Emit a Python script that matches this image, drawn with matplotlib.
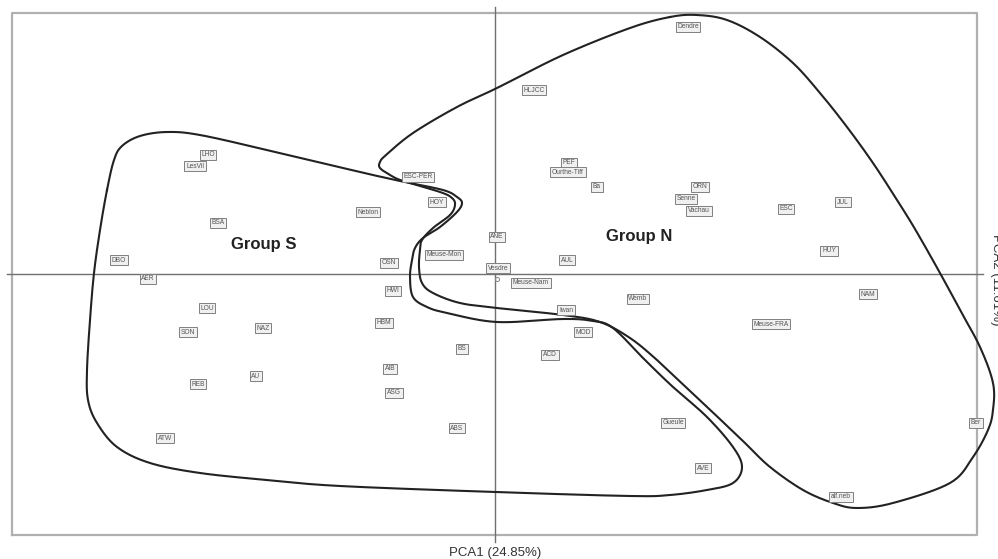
import numpy as np
import matplotlib
matplotlib.use("Agg")
import matplotlib.pyplot as plt

# site scores on the first two axes
sites = ["LHO", "LesVil", "HLJCC", "PEF", "Ourthe-Tiff", "Ba", "ESC-PER", "HOY",
         "Dendre", "ORN", "Senne", "Vachau", "ESC", "JUL", "HUY", "NAM", "Meuse-FRA",
         "BSA", "DBO", "AER", "LOU", "SON", "NAZ", "AU", "REB", "ATW",
         "Neblon", "ANE", "Meuse-Mon", "OSN", "Vesdre", "AUL", "Meuse-Nam", "HWI",
         "Wemb", "Iwan", "HBM", "MOD", "BS", "ACD", "AIB", "ASG", "ABS",
         "Gueule", "AVE", "alf.neb", "Ber"]
pc1 = [-2.87, -3.00, 0.39, 0.74, 0.73, 1.02, -0.77, -0.58,
       1.93, 2.05, 1.91, 2.04, 2.91, 3.48, 3.34, 3.73, 2.76,
       -2.77, -3.76, -3.47, -2.88, -3.07, -2.32, -2.39, -2.97, -3.30,
       -1.27, 0.02, -0.51, -1.06, 0.03, 0.72, 0.36, -1.02,
       1.43, 0.71, -1.11, 0.88, -0.33, 0.55, -1.05, -1.01, -0.38,
       1.78, 2.08, 3.46, 4.81]
pc2 = [1.19, 1.08, 1.84, 1.11, 1.02, 0.87, 0.97, 0.72,
       2.47, 0.87, 0.75, 0.63, 0.65, 0.72, 0.23, -0.20, -0.50,
       0.51, 0.14, -0.05, -0.34, -0.58, -0.54, -1.02, -1.10, -1.64,
       0.62, 0.37, 0.19, 0.11, 0.06, 0.14, -0.09, -0.17,
       -0.25, -0.36, -0.49, -0.58, -0.75, -0.81, -0.95, -1.19, -1.54,
       -1.49, -1.94, -2.23, -1.49]

# hand drawn outlines of the two groups
group_n_x = [1.75, 2.02, 2.32, 2.65, 2.98, 3.25, 3.52, 3.78, 4.02, 4.20, 4.45, 4.65,
             4.85, 4.98, 4.98, 4.93, 4.78, 4.55, 3.98, 3.62, 3.38, 3.08, 2.75, 2.50,
             2.28, 1.95, 1.62, 1.35, 1.05, 0.68, 0.02, -0.35, -0.62, -0.73, -0.76,
             -0.75, -0.73, -0.62, -0.45, -0.40, -0.43, -0.55, -0.92, -1.05, -1.15,
             -1.15, -1.09, -0.82, -0.38, 0.02, 0.68, 1.35]
group_n_y = [2.57, 2.59, 2.54, 2.37, 2.11, 1.81, 1.47, 1.11, 0.74, 0.45, 0.01, -0.36,
             -0.73, -1.09, -1.36, -1.56, -1.83, -2.09, -2.29, -2.34, -2.29, -2.16, -1.93, -1.69,
             -1.48, -1.17, -0.86, -0.64, -0.48, -0.41, -0.34, -0.29, -0.19, -0.09, 0.07,
             0.24, 0.34, 0.46, 0.59, 0.69, 0.76, 0.82, 0.93, 0.99, 1.06,
             1.12, 1.19, 1.41, 1.67, 1.86, 2.19, 2.46]
group_s_x = [-3.88, -3.95, -4.01, -4.05, -4.08, -4.07, -3.98, -3.78, -3.45, -2.95, -2.28,
             -1.55, 0.00, 1.35, 1.75, 2.12, 2.38, 2.47, 2.38, 2.12, 1.78, 1.50, 1.18,
             0.98, 0.68, 0.02, -0.48, -0.68, -0.82, -0.85, -0.83, -0.80, -0.72, -0.55,
             -0.38, -0.33, -0.38, -0.52, -0.95, -1.35, -2.28, -2.95, -3.28, -3.55,
             -3.73, -3.81]
group_s_y = [0.84, 0.44, 0.01, -0.46, -0.96, -1.26, -1.49, -1.73, -1.89, -1.99, -2.06,
             -2.12, -2.18, -2.22, -2.21, -2.16, -2.09, -1.93, -1.73, -1.43, -1.13, -0.86, -0.54,
             -0.47, -0.45, -0.48, -0.39, -0.33, -0.23, -0.03, 0.14, 0.26, 0.36, 0.47,
             0.62, 0.71, 0.77, 0.84, 0.93, 1.02, 1.24, 1.39, 1.42, 1.38,
             1.28, 1.14]


# closed Catmull-Rom curve through the outline points
def smooth(xs, ys, n=20):
    P = np.column_stack([xs, ys])
    m = len(P)
    t = np.linspace(0, 1, n, endpoint=False)[:, None]
    out = []
    for i in range(m):
        p0, p1, p2, p3 = P[i - 1], P[i], P[(i + 1) % m], P[(i + 2) % m]
        out.append(0.5 * (2 * p1 + (-p0 + p2) * t
                          + (2 * p0 - 5 * p1 + 4 * p2 - p3) * t ** 2
                          + (-p0 + 3 * p1 - 3 * p2 + p3) * t ** 3))
    out = np.vstack(out + [P[:1]])
    return out[:, 0], out[:, 1]


fig = plt.figure(figsize=(9.98, 5.59), dpi=100)
ax = fig.add_axes([0, 0, 1, 1])
ax.set_xlim(-4.95, 5.03)
ax.set_ylim(-2.85, 2.74)
ax.axis("off")

# frame and axis lines
ax.plot([-4.83, 4.82, 4.82, -4.83, -4.83], [-2.61, -2.61, 2.61, 2.61, -2.61],
        color="#b0b0b0", lw=1.6)
ax.plot([-4.88, 4.88], [0, 0], color="#707070", lw=1)
ax.plot([0, 0], [-2.68, 2.67], color="#707070", lw=1)

for gx, gy in [(group_s_x, group_s_y), (group_n_x, group_n_y)]:
    sx, sy = smooth(gx, gy)
    ax.plot(sx, sy, color="#222222", lw=1.5)

for name, x, y in zip(sites, pc1, pc2):
    ax.text(x, y, name, fontsize=4.8, color="#555555", family="Liberation Sans",
            ha="center", va="center",
            bbox=dict(boxstyle="square,pad=0.25", fc="#f0f0f0", ec="#808080", lw=0.7))

ax.plot(0.02, -0.05, "o", ms=3, mfc="none", mec="#888888", mew=0.7)

ax.text(-2.31, 0.29, "Group S", fontsize=12, fontweight="bold", color="#222222",
        family="Liberation Sans", ha="center", va="center")
ax.text(1.44, 0.38, "Group N", fontsize=12, fontweight="bold", color="#222222",
        family="Liberation Sans", ha="center", va="center")

ax.text(0.0, -2.79, "PCA1 (24.85%)", fontsize=9.5, color="#333333",
        family="Liberation Sans", ha="center", va="center")
ax.text(5.01, -0.06, "PCA2 (11.61%)", fontsize=9.5, color="#333333", rotation=270,
        family="Liberation Sans", ha="center", va="center", clip_on=False)

fig.savefig("out.png", dpi=100)
